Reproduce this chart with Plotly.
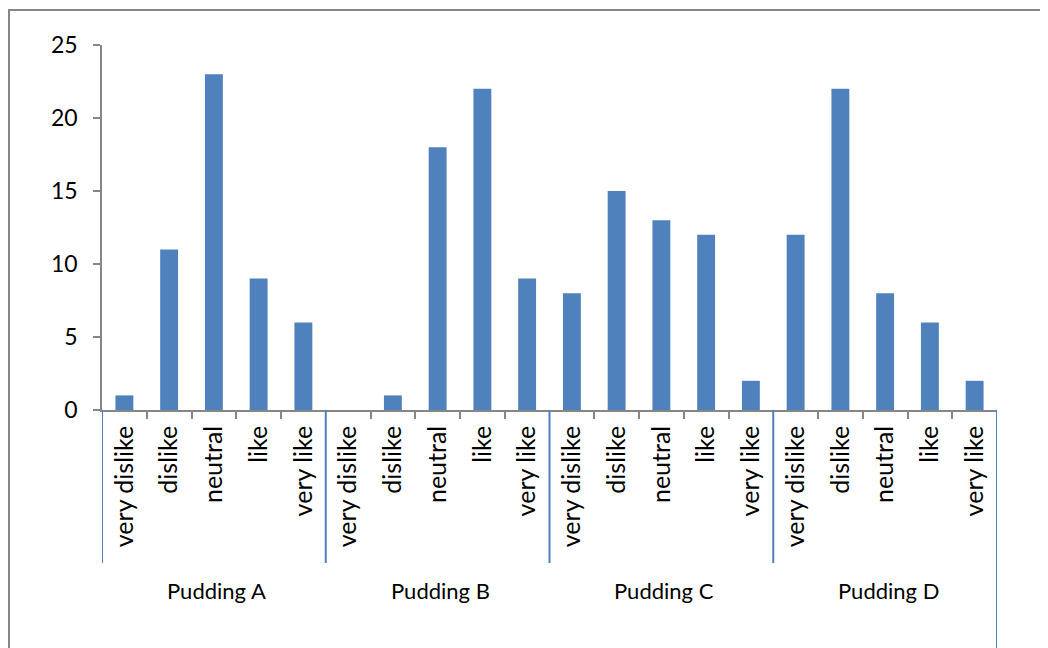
import plotly.graph_objects as go

levels = ["very dislike", "dislike", "neutral", "like", "very like"]
groups = ["Pudding A", "Pudding B", "Pudding C", "Pudding D"]
values_a = [1, 11, 23, 9, 6]
values_b = [0, 1, 18, 22, 9]
values_c = [8, 15, 13, 12, 2]
values_d = [12, 22, 8, 6, 2]
y_ticks = [0, 5, 10, 15, 20, 25]

all_values = values_a + values_b + values_c + values_d
n_lev = len(levels)
n = len(all_values)
xs = list(range(n))
labels = levels * len(groups)

FONT = "Lato"
GRAY = "#868686"
BLUE = "#4F81BD"

OFF = 8  # page body margin
W, H = 1040, 640
# plot area in page pixels: x 102..997, y 45..410
L, T = 102 - OFF, 45 - OFF
R = W - (997 - OFF)
B = H - (410 - OFF)
pw, ph = W - L - R, H - T - B

def px_x(p):
    return (p - OFF - L) / pw

def px_y(p):
    return (H - B - (p - OFF)) / ph

fig = go.Figure()
fig.add_trace(go.Bar(x=xs, y=all_values, marker=dict(color=BLUE, line=dict(width=0)),
                     showlegend=False, hoverinfo="x+y"))
fig.add_trace(go.Scatter(x=[None], y=[None], xaxis="x2", showlegend=False, hoverinfo="skip"))

inner_bounds = [i + 0.5 for i in range(n - 1) if (i + 1) % n_lev != 0]

fig.update_layout(
    width=W, height=H,
    margin=dict(l=L, r=R, t=T, b=B),
    paper_bgcolor="white", plot_bgcolor="white",
    bargap=0.6,
    font=dict(family=FONT, size=22, color="black"),
    xaxis=dict(range=[-0.5, n - 0.5], tickvals=xs, ticktext=labels, tickangle=-90,
               ticks="", showline=True, linecolor=GRAY, linewidth=1.5,
               showgrid=False, zeroline=False, ticklabelstandoff=4,
               tickfont=dict(family=FONT, size=25, color="black")),
    xaxis2=dict(range=[-0.5, n - 0.5], overlaying="x", tickvals=inner_bounds,
                ticks="outside", ticklen=8, tickcolor=GRAY, tickwidth=1.5,
                showticklabels=False, showline=False, showgrid=False, zeroline=False,
                side="bottom", anchor="y"),
    yaxis=dict(range=[0, 25], tickvals=y_ticks, ticks="outside", ticklen=7,
               tickcolor=GRAY, tickwidth=1.5, showline=True, linecolor=GRAY, linewidth=1.5,
               showgrid=False, zeroline=False, ticklabelstandoff=11,
               tickfont=dict(family=FONT, size=23, color="black")),
)

shapes = []
for g in range(len(groups) + 1):
    xb = g * n_lev - 0.5
    ybot = px_y(563) if g < len(groups) else px_y(H + 40)
    shapes.append(dict(type="line", xref="x", yref="paper", x0=xb, x1=xb, y0=0, y1=ybot,
                       line=dict(color=BLUE, width=2)))
# outer chart border
shapes.append(dict(type="rect", xref="paper", yref="paper",
                   x0=px_x(9), x1=px_x(W + 60), y0=px_y(H + 60), y1=px_y(10),
                   line=dict(color=GRAY, width=2)))
fig.update_layout(shapes=shapes)

for gi, g in enumerate(groups):
    fig.add_annotation(x=gi * n_lev + (n_lev - 1) / 2, xref="x", y=px_y(590), yref="paper",
                       text=g, showarrow=False, xanchor="center", yanchor="middle",
                       xshift=3, font=dict(family=FONT, size=22, color="black"))

fig.write_html("out.html")
